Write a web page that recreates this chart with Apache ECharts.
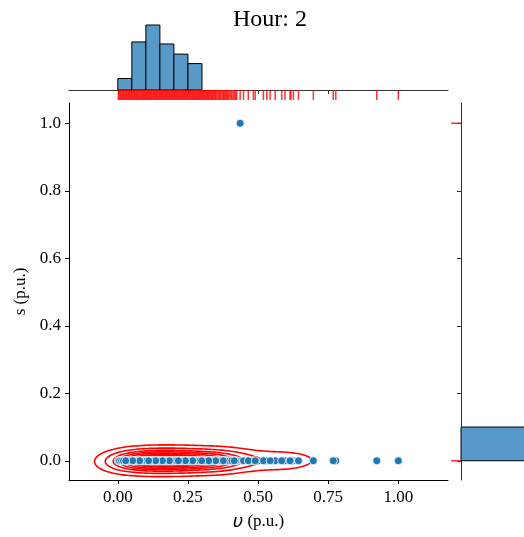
<!DOCTYPE html>
<html><head><meta charset="utf-8">
<script src="https://cdn.jsdelivr.net/npm/echarts@6/dist/echarts.min.js"></script>
<style>html,body{margin:0;padding:0;background:#fff}#c{width:524px;height:537px}</style>
</head><body><div id="c"></div>
<script>
// ---------------- data ----------------
const titleText = 'Hour: 2';
// distinct υ (p.u.) values and how many samples sit at each
const uVals = [
  0.002,0.006,0.009,0.013,0.017,0.020,0.024,0.028,0.031,0.035,0.039,0.042,0.046,0.049,
  0.053,0.057,0.060,0.064,0.067,0.071,0.074,0.078,0.082,0.085,0.089,0.092,0.096,0.099,
  0.103,0.106,0.110,0.113,0.117,0.120,0.124,0.128,0.131,0.135,0.138,0.142,0.145,0.149,
  0.152,0.156,0.159,0.163,0.167,0.170,0.174,0.177,0.181,0.184,0.188,0.192,0.195,0.199,
  0.202,0.206,0.209,0.213,0.216,0.220,0.224,0.227,0.231,0.234,0.238,0.241,0.245,0.248,
  0.252,0.256,0.259,0.263,0.267,0.270,0.274,0.277,0.281,0.285,0.288,0.292,0.295,0.299,
  0.302,0.306,0.309,0.313,0.317,0.320,0.324,0.327,0.331,0.335,0.338,0.342,0.346,0.349,
  0.353,0.357,0.361,0.364,0.368,0.372,0.376,0.380,0.384,0.388,0.392,0.396,
  0.401,0.406,0.411,0.415,0.420,0.424,0.436,0.448,
  0.465,0.483,0.490,0.519,0.531,0.543,0.561,0.584,0.596,
  0.614,0.617,0.626,0.644,0.697,0.768,0.777,0.923,1.000];
const uCounts = [
  2,2,2,2,2,2,2,2,2,2,3,2,3,2,
  3,3,3,4,3,4,3,4,3,4,3,4,3,3,
  4,4,4,4,4,4,4,4,4,4,4,4,4,4,
  4,4,4,4,4,4,4,4,4,4,4,4,4,4,
  4,4,3,4,3,4,3,4,3,4,3,4,3,4,
  3,3,3,3,3,3,3,3,3,3,3,3,3,3,
  3,3,3,3,3,3,3,2,3,2,3,2,3,2,
  3,2,3,2,3,2,3,2,2,2,2,2,
  3,2,2,2,2,2,1,2,
  2,3,2,2,2,2,2,2,2,
  2,1,2,2,1,1,1,1,1];
// s (p.u.) for each distinct value (all 0 except one sample)
const sVals = uVals.map(u => (u === 0.436 ? 1 : 0));
// marginal histograms
const uHistStart = [0, 0.05, 0.10, 0.15, 0.20, 0.25];
const uHistCounts = [17, 71, 96, 68, 53, 39];
const uBinWidth = 0.05;
const sHistStart = [0];
const sHistCounts = [393];
const sBinWidth = 0.1;
const xTicks = [0, 0.25, 0.5, 0.75, 1.0];
const yTicks = [0, 0.2, 0.4, 0.6, 0.8, 1.0];
const xRange = [-0.174, 1.177];
const yRange = [-0.057, 1.06];

const uHist = uHistStart.map((x, i) => [x, uHistCounts[i]]);
const sHist = sHistStart.map((y, i) => [y, sHistCounts[i]]);
const uHistMax = Math.max(...uHistCounts);
const sHistMax = Math.max(...sHistCounts);

// ---------------- gaussian KDE (scott) ----------------
let N = 0, mx = 0, my = 0;
uVals.forEach((u, i) => { N += uCounts[i]; mx += uCounts[i] * u; my += uCounts[i] * sVals[i]; });
mx /= N; my /= N;
let cxx = 0, cyy = 0, cxy = 0;
uVals.forEach((u, i) => { const c = uCounts[i], dx = u - mx, dy = sVals[i] - my; cxx += c*dx*dx; cyy += c*dy*dy; cxy += c*dx*dy; });
cxx /= (N - 1); cyy /= (N - 1); cxy /= (N - 1);
const fac = Math.pow(N, -1 / 6);
const kxx = cxx * fac * fac, kyy = cyy * fac * fac, kxy = cxy * fac * fac;
const det = kxx * kyy - kxy * kxy;
const ixx = kyy / det, iyy = kxx / det, ixy = -kxy / det;
const bwx = Math.sqrt(kxx), bwy = Math.sqrt(kyy);
const G = 200;
const uMin = Math.min(...uVals), uMax = Math.max(...uVals);
const sMin = Math.min(...sVals), sMax = Math.max(...sVals);
const xs = [], ys = [];
for (let i = 0; i < G; i++) {
  xs.push(uMin - 3 * bwx + (uMax - uMin + 6 * bwx) * i / (G - 1));
  ys.push(sMin - 3 * bwy + (sMax - sMin + 6 * bwy) * i / (G - 1));
}
const Z = [];
const flat = [];
for (let j = 0; j < G; j++) {
  const row = [];
  for (let i = 0; i < G; i++) {
    let v = 0;
    for (let k = 0; k < uVals.length; k++) {
      const dx = xs[i] - uVals[k], dy = ys[j] - sVals[k];
      const q = dx*dx*ixx + 2*dx*dy*ixy + dy*dy*iyy;
      if (q < 60) v += uCounts[k] * Math.exp(-0.5 * q);
    }
    row.push(v); flat.push(v);
  }
  Z.push(row);
}
// iso-proportion levels (seaborn style)
const sorted = flat.slice().sort((a, b) => b - a);
const total = sorted.reduce((a, b) => a + b, 0);
const cum = []; let acc = 0;
for (const v of sorted) { acc += v; cum.push(acc / total); }
const nLevels = 10, thresh = 0.05;
const levels = [];
for (let l = 0; l < nLevels; l++) {
  const p = thresh + (1 - thresh) * l / (nLevels - 1);
  const target = 1 - p;
  let lo = 0, hi = cum.length;
  while (lo < hi) { const mid = (lo + hi) >> 1; if (cum[mid] < target) lo = mid + 1; else hi = mid; }
  levels.push(sorted[Math.min(lo, sorted.length - 1)]);
}
const zMax = sorted[0];
// marching squares
const CASES = {1:[[3,0]],2:[[0,1]],3:[[3,1]],4:[[1,2]],5:[[3,0],[1,2]],6:[[0,2]],7:[[3,2]],
  8:[[2,3]],9:[[0,2]],10:[[0,1],[2,3]],11:[[1,2]],12:[[1,3]],13:[[0,1]],14:[[0,3]]};
function contour(L) {
  const segs = [];
  for (let j = 0; j < G - 1; j++) for (let i = 0; i < G - 1; i++) {
    const z0 = Z[j][i], z1 = Z[j][i+1], z2 = Z[j+1][i+1], z3 = Z[j+1][i];
    const idx = (z0 > L ? 1 : 0) | (z1 > L ? 2 : 0) | (z2 > L ? 4 : 0) | (z3 > L ? 8 : 0);
    if (idx === 0 || idx === 15) continue;
    const ep = e => {
      if (e === 0) { const t = (L - z0) / (z1 - z0); return { k: 'h' + i + ',' + j, p: [xs[i] + t * (xs[i+1] - xs[i]), ys[j]] }; }
      if (e === 1) { const t = (L - z1) / (z2 - z1); return { k: 'v' + (i+1) + ',' + j, p: [xs[i+1], ys[j] + t * (ys[j+1] - ys[j])] }; }
      if (e === 2) { const t = (L - z3) / (z2 - z3); return { k: 'h' + i + ',' + (j+1), p: [xs[i] + t * (xs[i+1] - xs[i]), ys[j+1]] }; }
      const t = (L - z0) / (z3 - z0); return { k: 'v' + i + ',' + j, p: [xs[i], ys[j] + t * (ys[j+1] - ys[j])] };
    };
    for (const [a, b] of CASES[idx]) { const A = ep(a), B = ep(b); segs.push({ a: A.k, b: B.k, pa: A.p, pb: B.p }); }
  }
  const map = new Map();
  segs.forEach((s, n) => { for (const k of [s.a, s.b]) { if (!map.has(k)) map.set(k, []); map.get(k).push(n); } });
  const used = new Array(segs.length).fill(false);
  const lines = [];
  for (let n = 0; n < segs.length; n++) {
    if (used[n]) continue; used[n] = true;
    const pts = [segs[n].pa, segs[n].pb];
    let key = segs[n].b;
    for (;;) { const nx = (map.get(key) || []).find(q => !used[q]); if (nx === undefined) break; used[nx] = true; const s = segs[nx]; if (s.a === key) { pts.push(s.pb); key = s.b; } else { pts.push(s.pa); key = s.a; } }
    key = segs[n].a;
    for (;;) { const nx = (map.get(key) || []).find(q => !used[q]); if (nx === undefined) break; used[nx] = true; const s = segs[nx]; if (s.a === key) { pts.unshift(s.pb); key = s.b; } else { pts.unshift(s.pa); key = s.a; } }
    lines.push(pts);
  }
  return lines;
}
const contourLines = [];
levels.forEach(L => { if (L < zMax) contourLines.push(...contour(L)); });

// scatter draw order: samples were recorded unsorted, so interleave them
const nPts = uVals.length;
const drawOrder = [];
for (let k = 0; k < nPts; k++) drawOrder.push((k * 53) % nPts);

// ---------------- chart ----------------
const FONT = 'Liberation Serif';
const main = { left: 69, top: 103, width: 379, height: 377 };
const chart = echarts.init(document.getElementById('c'), null, { renderer: 'canvas' });
const hiddenAxis = (extra) => Object.assign({ type: 'value', show: false, splitLine: { show: false } }, extra);
chart.setOption({
  animation: false,
  backgroundColor: '#fff',
  title: { text: titleText, left: 228, top: 3, textStyle: { fontFamily: FONT, fontSize: 24, fontWeight: 'normal', color: '#000' } },
  grid: [
    { left: main.left, top: main.top, width: main.width, height: main.height },
    { left: main.left, top: 90 - 68.25, width: main.width, height: 68.25 },
    { left: main.left, top: 90, width: main.width, height: 10 },
    { left: 461, top: main.top, width: 68.25, height: main.height },
    { left: 451, top: main.top, width: 10, height: main.height }
  ],
  xAxis: [
    { type: 'value', gridIndex: 0, min: xRange[0], max: xRange[1], splitLine: { show: false },
      axisLine: { onZero: false, lineStyle: { color: '#000', width: 1 } },
      axisTick: { inside: false, length: 4, lineStyle: { color: '#000' }, customValues: xTicks },
      axisLabel: { customValues: xTicks, formatter: v => v.toFixed(2), fontFamily: FONT, fontSize: 17, color: '#000', margin: 9 },
      name: '{u|υ} (p.u.)', nameLocation: 'middle', nameGap: 33,
      nameTextStyle: { fontFamily: FONT, fontSize: 17, color: '#000',
        rich: { u: { fontFamily: 'DejaVu Sans', fontStyle: 'italic', fontSize: 18, color: '#000' } } } },
    { type: 'value', gridIndex: 1, min: xRange[0], max: xRange[1], splitLine: { show: false },
      axisLine: { onZero: false, lineStyle: { color: '#333', width: 1 } },
      axisTick: { length: 4, lineStyle: { color: '#333' }, customValues: xTicks },
      axisLabel: { show: false } },
    hiddenAxis({ gridIndex: 2, min: xRange[0], max: xRange[1] }),
    hiddenAxis({ gridIndex: 3, min: 0, max: sHistMax * 0.9 }),
    hiddenAxis({ gridIndex: 4, min: 0, max: 1 })
  ],
  yAxis: [
    { type: 'value', gridIndex: 0, min: yRange[0], max: yRange[1], splitLine: { show: false },
      axisLine: { onZero: false, lineStyle: { color: '#000', width: 1 } },
      axisTick: { length: 4, lineStyle: { color: '#000' }, customValues: yTicks },
      axisLabel: { customValues: yTicks, formatter: v => v.toFixed(1), fontFamily: FONT, fontSize: 17, color: '#000', margin: 8 },
      name: 's (p.u.)', nameLocation: 'middle', nameGap: 40, nameRotate: 90,
      nameTextStyle: { fontFamily: FONT, fontSize: 17, color: '#000' } },
    hiddenAxis({ gridIndex: 1, min: 0, max: uHistMax * 1.05 }),
    hiddenAxis({ gridIndex: 2, min: 0, max: 1 }),
    { type: 'value', gridIndex: 3, min: yRange[0], max: yRange[1], splitLine: { show: false },
      axisLine: { onZero: false, lineStyle: { color: '#333', width: 1 } },
      axisTick: { length: 4, lineStyle: { color: '#333' }, customValues: yTicks },
      axisLabel: { show: false } },
    hiddenAxis({ gridIndex: 4, min: yRange[0], max: yRange[1] })
  ],
  series: [
    { type: 'custom', xAxisIndex: 0, yAxisIndex: 0, clip: true, z: 2,
      data: contourLines.map((ln, n) => [ln[0][0], ln[0][1], n]),
      encode: { x: 0, y: 1 },
      renderItem: (params, api) => {
        const ln = contourLines[api.value(2)];
        return { type: 'polyline', shape: { points: ln.map(p => api.coord(p)) },
          style: { stroke: '#ff0000', fill: 'none', lineWidth: 1.6, lineJoin: 'round', lineCap: 'round' } };
      } },
    { type: 'scatter', xAxisIndex: 0, yAxisIndex: 0, symbol: 'circle', symbolSize: 8, z: 3,
      itemStyle: { color: '#1f77b4', borderColor: '#fff', borderWidth: 0.8, opacity: 1 },
      data: drawOrder.map(i => [uVals[i], sVals[i]]) },
    { type: 'custom', xAxisIndex: 1, yAxisIndex: 1, z: 2,
      data: uHist, encode: { x: 0, y: 1 },
      renderItem: (params, api) => {
        const x0 = api.value(0), c = api.value(1);
        const a = api.coord([x0, 0]), b = api.coord([x0 + uBinWidth, c]);
        return { type: 'rect', shape: { x: a[0], y: b[1], width: b[0] - a[0], height: a[1] - b[1] },
          style: { fill: '#5799c7', stroke: '#000', lineWidth: 1 } };
      } },
    { type: 'scatter', xAxisIndex: 2, yAxisIndex: 2, symbol: 'rect', symbolSize: [1.5, 10], z: 4,
      itemStyle: { color: '#ff0000' }, data: uVals.map(u => [u, 0.5]) },
    { type: 'custom', xAxisIndex: 3, yAxisIndex: 3, z: 2,
      data: sHist, encode: { x: 1, y: 0 },
      renderItem: (params, api) => {
        const y0 = api.value(0), c = api.value(1);
        const a = api.coord([0, y0]), b = api.coord([c, y0 + sBinWidth]);
        return { type: 'rect', shape: { x: a[0], y: b[1], width: b[0] - a[0], height: a[1] - b[1] },
          style: { fill: '#5799c7', stroke: '#000', lineWidth: 1 } };
      } },
    { type: 'scatter', xAxisIndex: 4, yAxisIndex: 4, symbol: 'rect', symbolSize: [10, 1.5], z: 4,
      itemStyle: { color: '#ff0000' }, data: [...new Set(sVals)].map(s => [0.5, s]) }
  ]
});
</script></body></html>
